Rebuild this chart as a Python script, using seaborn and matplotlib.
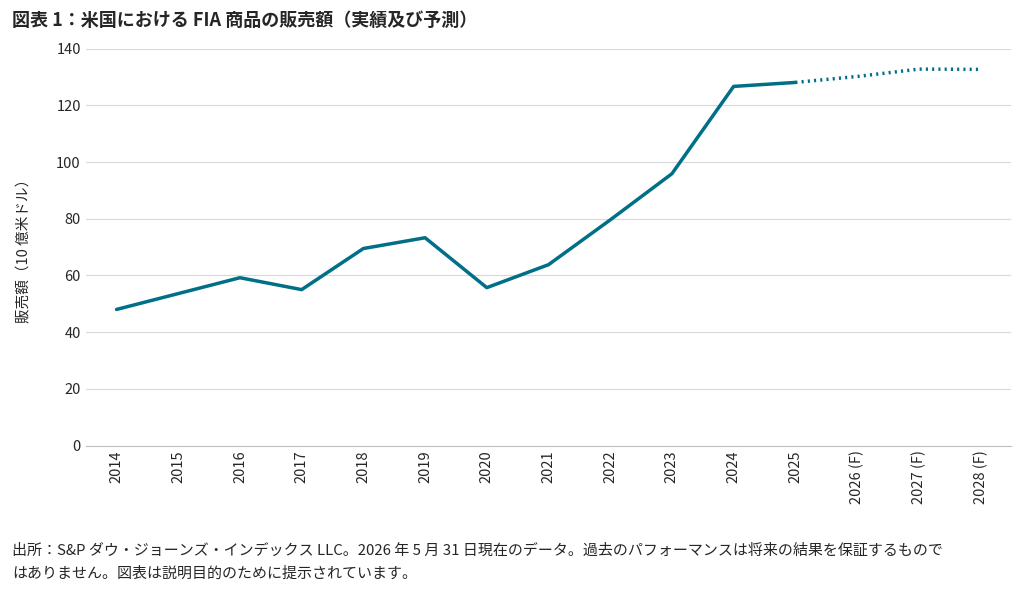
import matplotlib
matplotlib.use("Agg")
import matplotlib.pyplot as plt
import seaborn as sns
import pandas as pd

years = ["2014", "2015", "2016", "2017", "2018", "2019", "2020", "2021", "2022",
         "2023", "2024", "2025", "2026 (F)", "2027 (F)", "2028 (F)"]
sales = [48.0, 53.6, 59.2, 55.0, 69.5, 73.3, 55.7, 63.8, 79.6, 95.9, 126.7, 128.1,
         130.2, 132.8, 132.7]
n_actual = 12

sns.set_style("white")
plt.rcParams['font.family'] = ['Noto Sans CJK JP', 'DejaVu Sans']

df = pd.DataFrame({"x": range(len(years)), "y": sales})
color = "#006F87"

fig = plt.figure(figsize=(10.32, 5.94), dpi=100)
ax = fig.add_axes([0.083, 0.25, 0.897, 0.668])
sns.lineplot(data=df.iloc[:n_actual], x="x", y="y", ax=ax, color=color, linewidth=2.5)
sns.lineplot(data=df.iloc[n_actual - 1:], x="x", y="y", ax=ax, color=color,
             linewidth=2.5, linestyle=(0, (0.6, 1.2)))

ax.set_xlim(-0.5, len(years) - 0.5)
ax.set_ylim(0, 140)
ax.set_yticks(range(0, 141, 20))
ax.set_xticks(range(len(years)))
ax.set_xticklabels(years, rotation=90, fontsize=10.5)
ax.tick_params(axis="y", labelsize=10.5, length=0)
ax.tick_params(axis="x", length=0)
ax.grid(axis="y", color="#d9d9d9", linewidth=0.8)
for s in ["top", "right", "left"]:
    ax.spines[s].set_visible(False)
ax.spines["bottom"].set_color("#bfbfbf")
ax.set_xlabel("")
ax.set_ylabel("販売額（10 億米ドル）", fontsize=10.5, labelpad=18)

fig.text(0.012, 0.965, "図表 1：米国における FIA 商品の販売額（実績及び予測）",
         fontsize=13, fontweight="bold", va="center")
fig.text(0.012, 0.054, "出所：S&P ダウ・ジョーンズ・インデックス LLC。2026 年 5 月 31 日現在のデータ。過去のパフォーマンスは将来の結果を保証するもので\nはありません。図表は説明目的のために提示されています。",
         fontsize=10.8, va="center", linespacing=1.75)

fig.savefig("out.png", dpi=100)
